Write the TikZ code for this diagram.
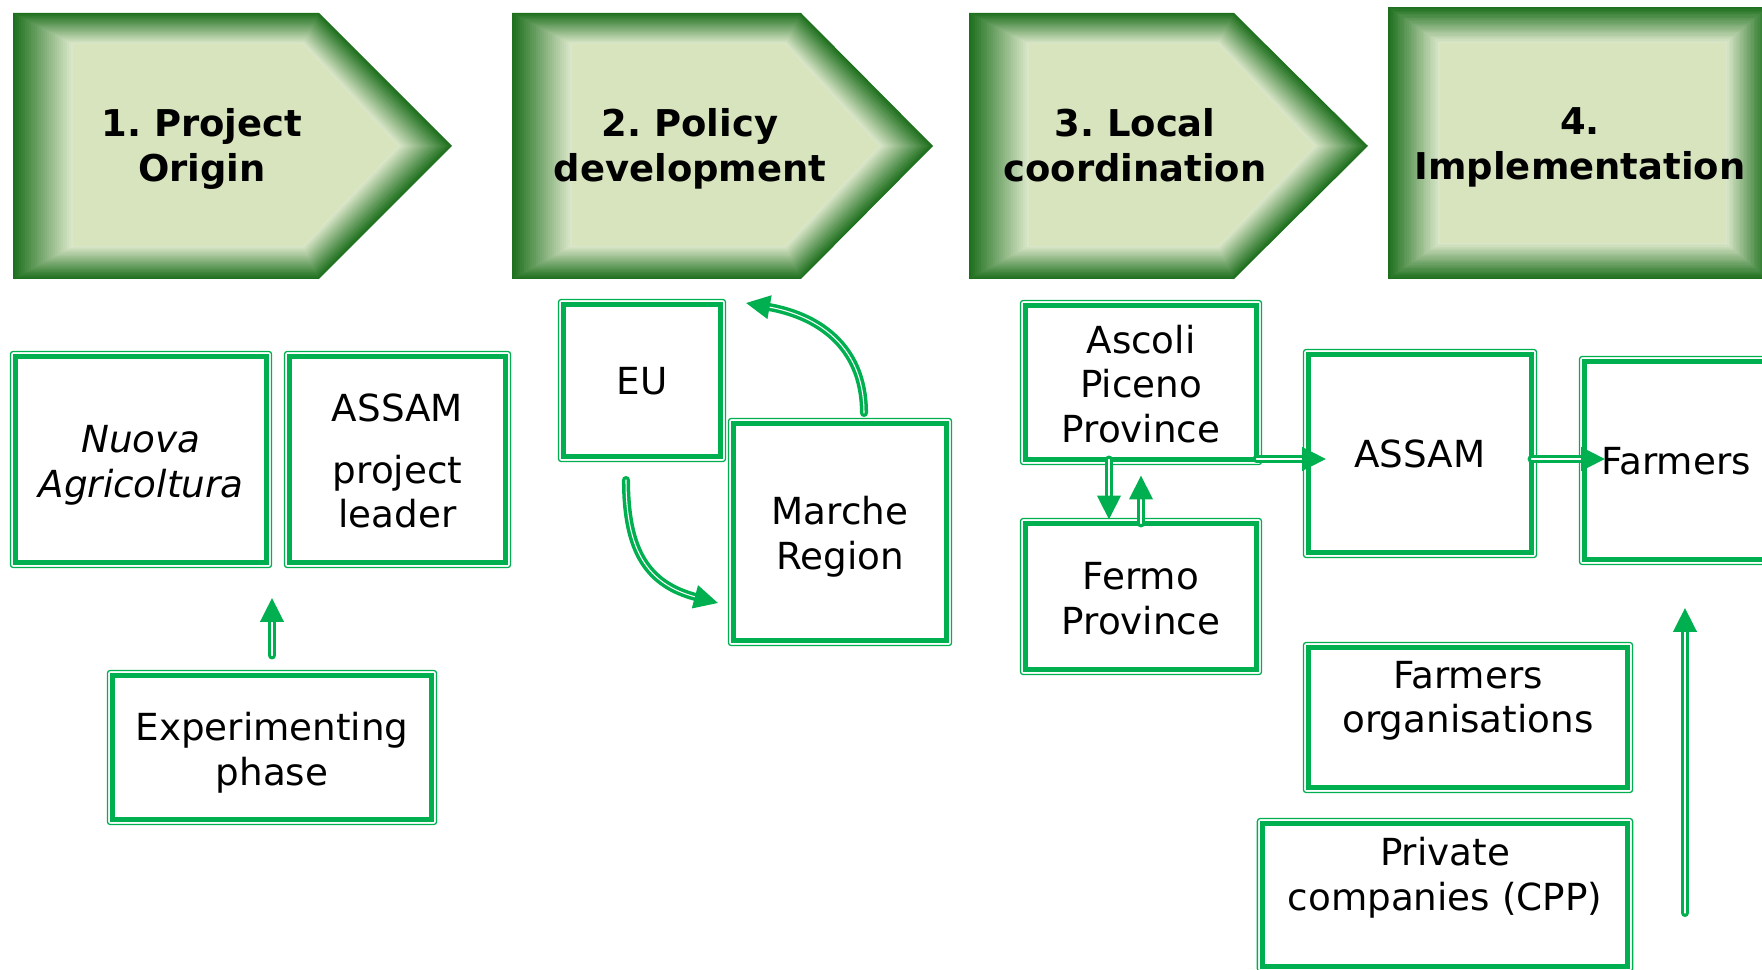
\documentclass[tikz,border=0pt]{standalone}
\usepackage{fontspec}
\setmainfont{DejaVu Sans}
\usetikzlibrary{arrows.meta,calc}
\frenchspacing

\definecolor{deepgreen}{RGB}{30,112,30}
\definecolor{glow}{RGB}{226,235,208}
\definecolor{leaf}{RGB}{215,228,189}
\definecolor{boxgreen}{RGB}{0,176,80}

% struts for the first and the last line of a label
\newcommand{\firstline}{\rule{0pt}{11.3pt}}
\newcommand{\lowtopstrut}{\rule{0pt}{10.8pt}}
\newcommand{\botstrut}{\rule[-2.6pt]{0pt}{2.6pt}}

\tikzset{
  phase/.style={font=\bfseries\fontsize{10.5}{12.7}\selectfont, align=center,
                execute at end node=\botstrut},
  actor/.style={draw=boxgreen, line width=1.28pt, outer sep=0pt, inner sep=0pt,
                align=center, font=\fontsize{10.6}{12.7}\selectfont,
                execute at end node=\botstrut},
  oneline/.style={actor, execute at begin node=\lowtopstrut},
  frame/.style={draw=boxgreen, line width=0.37pt, rounded corners=0.8pt},
  flow/.style={draw=boxgreen, line width=1pt, double=white, double distance=0.3pt,
               line cap=round, -{Triangle[length=6.8pt,width=6.6pt]}},
}

% bevelled arrow banner: left edge, notch, tip
\newcommand{\phasearrow}[3]{%
  \foreach \i in {0,...,30}{
    \pgfmathtruncatemacro\p{100*\i/30}
    \pgfmathsetmacro\t{\i/30}
    \fill[glow!\p!deepgreen]
      ($(#1,-13)!\t!(#1+60,-44)$) -- ($(#2,-13)!\t!(#2-16,-44)$)
      -- ($(#3,-146)!\t!(#3-54,-146)$) -- ($(#2,-279)!\t!(#2-16,-246)$)
      -- ($(#1,-279)!\t!(#1+60,-246)$) -- cycle;
  }
  \fill[leaf] (#1+60,-44) -- (#2-16,-44) -- (#3-54,-146)
    -- (#2-16,-246) -- (#1+60,-246) -- cycle;
}

\begin{document}
\begin{tikzpicture}[x=0.01cm, y=0.01cm]
  \useasboundingbox (0,0) rectangle (1762,-970);
  \clip (0,0) rectangle (1762,-970);

  % phase banners
  \phasearrow{13}{319}{452}
  \phasearrow{512}{801}{933}
  \phasearrow{969}{1234}{1368}
  \foreach \i in {0,...,30}{
    \pgfmathtruncatemacro\p{100*\i/30}
    \pgfmathsetmacro\t{\i/30}
    \fill[glow!\p!deepgreen] ($(1388,-7)!\t!(1440,-43)$) rectangle ($(1768,-279)!\t!(1726,-243)$);
  }
  \fill[leaf] (1440,-43) rectangle (1726,-243);

  \node[phase] (origin) at (202,-144) {\firstline 1. Project\\Origin};
  \node[phase] (policy) at (690,-143.5) {\firstline 2. Policy\\development};
  \node[phase] (local) at (1135,-143.5) {\firstline 3. Local\\coordination};
  \node[phase] (impl) at (1580,-141.5) {\firstline 4.\\Implementation};

  % actors
  \node[actor, minimum width=2.51cm, minimum height=2.06cm] (nuova) at (141,-459.5)
    {\firstline\textit{Nuova}\\\textit{Agricoltura}};
  \node[actor, minimum width=2.16cm, minimum height=2.06cm] (leader) at (397.5,-459.5)
    {\firstline ASSAM\\[4.8pt]project\\leader};
  \node[actor, minimum width=3.19cm, minimum height=1.44cm] (exper) at (272,-747.5)
    {\firstline Experimenting\\phase};
  \node[oneline, minimum width=1.57cm, minimum height=1.52cm] (eu) at (642,-380.5) {EU};
  \node[actor, minimum width=2.13cm, minimum height=2.17cm] (marche) at (840,-532)
    {\firstline Marche\\Region};
  \node[actor, minimum width=2.31cm, minimum height=1.54cm] (ascoli) at (1141,-382.5)
    {\firstline Ascoli\\Piceno\\Province};
  \node[actor, minimum width=2.31cm, minimum height=1.46cm] (fermo) at (1141,-596.5)
    {\firstline Fermo\\Province};
  \node[oneline, minimum width=2.23cm, minimum height=1.98cm] (assam) at (1420,-453.5) {ASSAM};
  \node[oneline, minimum width=1.83cm, minimum height=1.98cm] (farmers) at (1676,-460.5) {Farmers};
  \node[actor, minimum width=3.19cm, minimum height=1.40cm] (forg) at (1468,-717.5)
    {\firstline Farmers\\organisations\\\mbox{}};
  \node[actor, minimum width=3.65cm, minimum height=1.43cm] (priv) at (1445,-895)
    {\firstline Private\\companies (CPP)\\\mbox{}};

  % thin outer rule of each box
  \foreach \n in {nuova,leader,exper,eu,marche,ascoli,fermo,assam,farmers,forg,priv}
    \draw[frame] ([shift={(-5,5)}]\n.north west) rectangle ([shift={(5,-5)}]\n.south east);

  % links
  \coordinate (rise) at (272,-598);
  \draw[flow, shorten <=0.2cm] (exper.north) -- (rise);

  \coordinate (regfoot) at (864,-413);
  \coordinate (euback) at (746,-303);
  \draw[flow] (regfoot) to[out=90, in=-10, looseness=1.1] (euback);
  \coordinate (eufoot) at (626,-480);
  \coordinate (regin) at (718,-603);
  \draw[flow] (eufoot) to[out=-90, in=165, looseness=1.2] (regin);

  \draw[flow, shorten >=0.04cm] ([xshift=-0.32cm]ascoli.south) -- ([xshift=-0.32cm]fermo.north);
  \draw[flow, shorten >=0.16cm] (fermo.north) -- (ascoli.south);

  \coordinate (assamin) at (1326,-459);
  \draw[flow] (ascoli.east |- assamin) -- (assamin);
  \coordinate (farmin) at (1605,-459);
  \draw[flow] (assam.east |- farmin) -- (farmin);

  \coordinate (cppfoot) at (1685,-913);
  \coordinate (cpptop) at (1685,-608);
  \draw[flow] (cppfoot) -- (cpptop);
\end{tikzpicture}
\end{document}
